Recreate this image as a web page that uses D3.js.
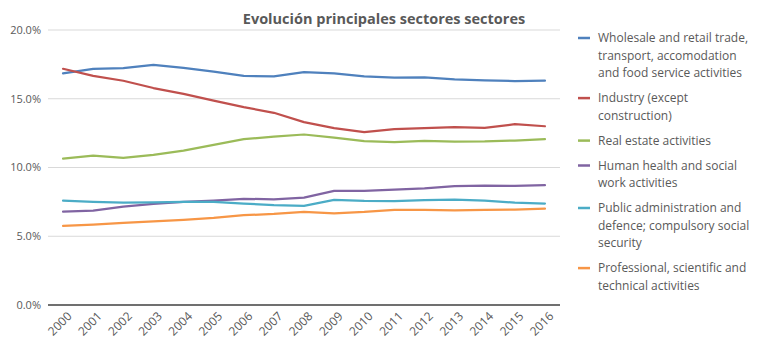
<!DOCTYPE html>
<html>
<head>
<meta charset="utf-8">
<script src="https://cdn.jsdelivr.net/npm/d3@7"></script>
<style>
  body { margin: 0; background: #fff; }
  svg text { font-family: "Open Sans", "Noto Sans", sans-serif; fill: #595959; }
</style>
</head>
<body>
<div id="chart"></div>
<script>
const years = ['2000', '2001', '2002', '2003', '2004', '2005', '2006', '2007', '2008',
  '2009', '2010', '2011', '2012', '2013', '2014', '2015', '2016'];

const wholesale = [16.84, 17.18, 17.23, 17.47, 17.25, 16.97, 16.66, 16.62, 16.94,
  16.84, 16.62, 16.53, 16.55, 16.41, 16.34, 16.29, 16.31];
const industry = [17.18, 16.67, 16.31, 15.78, 15.36, 14.87, 14.39, 13.98, 13.3,
  12.86, 12.57, 12.79, 12.86, 12.93, 12.88, 13.15, 13.0];
const realEstate = [10.65, 10.87, 10.7, 10.92, 11.23, 11.65, 12.06, 12.25, 12.4,
  12.18, 11.91, 11.84, 11.94, 11.89, 11.9, 11.96, 12.06];
const health = [6.79, 6.87, 7.16, 7.35, 7.5, 7.59, 7.72, 7.69, 7.81,
  8.3, 8.3, 8.39, 8.49, 8.64, 8.69, 8.66, 8.71];
const publicAdmin = [7.59, 7.5, 7.45, 7.47, 7.5, 7.5, 7.38, 7.26, 7.21,
  7.64, 7.57, 7.55, 7.62, 7.67, 7.59, 7.45, 7.38];
const professional = [5.75, 5.85, 5.97, 6.09, 6.19, 6.33, 6.53, 6.62, 6.77,
  6.67, 6.77, 6.92, 6.92, 6.89, 6.92, 6.94, 7.01];

const yTicks = [0, 5, 10, 15, 20];

const seriesNames = [
  ['Wholesale and retail trade,', 'transport, accomodation', 'and food service activities'],
  ['Industry (except', 'construction)'],
  ['Real estate activities'],
  ['Human health and social', 'work activities'],
  ['Public administration and', 'defence; compulsory social', 'security'],
  ['Professional, scientific and', 'technical activities'],
];
const seriesValues = [wholesale, industry, realEstate, health, publicAdmin, professional];
const colors = ['#4f81bd', '#c0504d', '#9bbb59', '#8064a2', '#4bacc6', '#f79646'];

const width = 769;
const height = 361;
const margin = { top: 30, right: 209, bottom: 56, left: 48 };

const svg = d3.select('#chart').append('svg')
  .attr('width', width)
  .attr('height', height);

const x = d3.scalePoint()
  .domain(years)
  .range([margin.left, width - margin.right])
  .padding(0.5);

const y = d3.scaleLinear()
  .domain([0, 20])
  .range([height - margin.bottom, margin.top]);

// gridlines
svg.append('g')
  .selectAll('line')
  .data(yTicks.filter(d => d > 0))
  .enter().append('line')
  .attr('x1', margin.left)
  .attr('x2', width - margin.right)
  .attr('y1', d => y(d))
  .attr('y2', d => y(d))
  .attr('stroke', '#d9d9d9')
  .attr('stroke-width', 1);

// y labels
svg.append('g')
  .selectAll('text')
  .data(yTicks)
  .enter().append('text')
  .attr('x', margin.left - 7)
  .attr('y', d => y(d))
  .attr('dy', '0.35em')
  .attr('text-anchor', 'end')
  .style('font-size', '11px')
  .text(d => `${d.toFixed(1)}%`);

// x axis
const xAxis = svg.append('g')
  .attr('transform', `translate(0,${y(0)})`)
  .call(d3.axisBottom(x).tickSize(0).tickPadding(0));
xAxis.select('.domain')
  .attr('d', `M${margin.left},0H${width - margin.right}`)
  .attr('stroke', '#404040')
  .attr('stroke-width', 1.3);
xAxis.selectAll('text')
  .attr('transform', 'translate(6,9) rotate(-45)')
  .attr('text-anchor', 'end')
  .attr('dy', '0.35em')
  .attr('font-family', null)
  .style('font-size', '12px')
  .style('fill', '#595959');

// lines
const line = d3.line()
  .x((d, i) => x(years[i]))
  .y(d => y(d));

svg.append('g')
  .selectAll('path')
  .data(seriesValues)
  .enter().append('path')
  .attr('d', line)
  .attr('fill', 'none')
  .attr('stroke', (d, i) => colors[i])
  .attr('stroke-width', 2.25)
  .attr('stroke-linejoin', 'round')
  .attr('stroke-linecap', 'round');

// title
svg.append('text')
  .attr('x', 384)
  .attr('y', 24)
  .attr('text-anchor', 'middle')
  .style('font-size', '14.5px')
  .style('font-weight', 'bold')
  .text('Evolución principales sectores sectores');

// legend
const lineH = 17.6;
const gap = 7.3;
let ly = 38;
seriesNames.forEach((lines, i) => {
  const g = svg.append('g');
  g.append('line')
    .attr('x1', 578).attr('x2', 590)
    .attr('y1', ly).attr('y2', ly)
    .attr('stroke', colors[i])
    .attr('stroke-width', 2.5);
  const t = g.append('text')
    .style('font-size', '12px');
  lines.forEach((s, j) => {
    t.append('tspan')
      .attr('x', 598)
      .attr('y', ly + j * lineH)
      .attr('dy', '0.35em')
      .text(s);
  });
  ly += lines.length * lineH + gap;
});
</script>
</body>
</html>
